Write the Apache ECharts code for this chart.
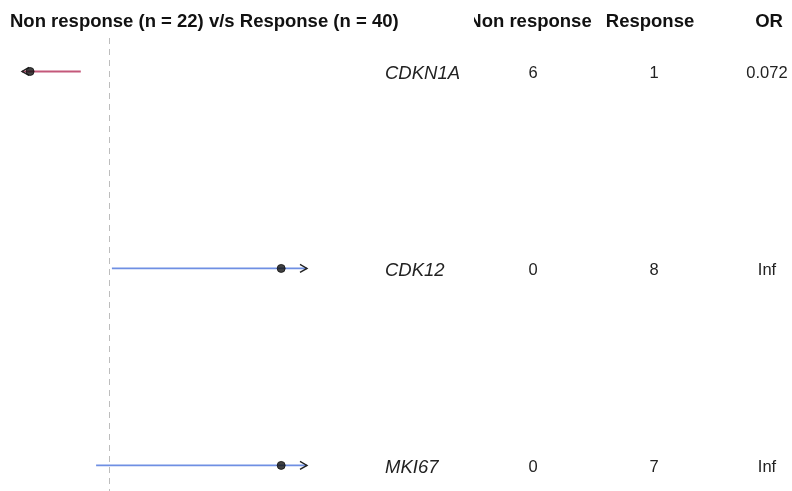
<!DOCTYPE html>
<html><head><meta charset="utf-8">
<script src="https://cdn.jsdelivr.net/npm/echarts@6/dist/echarts.min.js"></script>
<style>html,body{margin:0;padding:0;background:#fff}#chart{width:792px;height:491px}</style>
</head><body><div id="chart"></div>
<script>
// Forest plot: odds ratios (log scale) with counts per group
const genes = ['CDKN1A', 'CDK12', 'MKI67'];
const nonResponse = [6, 0, 0];
const response = [1, 8, 7];
const orLabels = ['0.072', 'Inf', 'Inf'];
const orValues = [0.072, Infinity, Infinity];
const ciLower = [0.004, 1.10, 0.65];
const ciUpper = [0.39, Infinity, Infinity];
const headers = ['Non response', 'Response', 'OR'];
const titleText = 'Non response (n = 22) v/s Response (n = 40)';

// visible range of the log axis; infinite estimates are drawn at the cap
const axisMin = 0.055, axisMax = 733, infCap = 310;

const FONT = '"Liberation Sans", Arial, sans-serif';
const colX = { gene: 385, nonResp: 533, resp: 654, or: 767 };
const headX = { nonResp: 530, resp: 650, or: 769 };
const rows = genes.map((g, i) => i + 1);

const ciData = genes.map((g, i) => [ciLower[i], ciUpper[i], rows[i], orValues[i]]);
const pointData = genes.map((g, i) => [isFinite(orValues[i]) ? orValues[i] : infCap, rows[i]]);
const tableData = genes.map((g, i) => [rows[i], g, nonResponse[i], response[i], orLabels[i]]);

function chevron(x, y, dir) {
  const w = 7 * dir, h = 4;
  return { type: 'polyline', shape: { points: [[x - w, y - h], [x, y], [x - w, y + h]] },
           style: { stroke: '#222', lineWidth: 1.4, fill: null } };
}

const headStyle = (t, x) => ({ type: 'text', x: x, y: 22,
  style: { text: t, font: 'bold 18.5px ' + FONT, fill: '#111', align: 'center', verticalAlign: 'middle' } });

const chart = echarts.init(document.getElementById('chart'), null, { renderer: 'canvas' });
chart.setOption({
  animation: false,
  backgroundColor: '#fff',
  grid: { left: 22, right: 485, top: 38, bottom: 0 },
  xAxis: { type: 'log', logBase: 10, min: axisMin, max: axisMax, show: false },
  yAxis: { type: 'value', inverse: true, min: 0.83, max: 3.13, show: false },
  graphic: [
    { type: 'text', x: 10, y: 22, style: { text: titleText, font: 'bold 18.5px ' + FONT, fill: '#111', verticalAlign: 'middle' } },
    headStyle(headers[0], headX.nonResp),
    // the first column header is cut at the left edge of its cell
    { type: 'rect', shape: { x: 440, y: 4, width: 34, height: 36 }, style: { fill: '#fff' }, z: 100 },
    headStyle(headers[1], headX.resp),
    headStyle(headers[2], headX.or)
  ],
  series: [
    {
      type: 'custom',
      data: ciData,
      renderItem: function (params, api) {
        const lo = api.value(0), hi = api.value(1), row = api.value(2), est = api.value(3);
        const loC = Math.max(lo, axisMin), hiC = Math.min(hi, axisMax);
        const p1 = api.coord([loC, row]), p2 = api.coord([hiC, row]);
        const color = est < 1 ? '#c4587a' : '#6f8fe3';
        const children = [{ type: 'line', shape: { x1: p1[0], y1: p1[1], x2: p2[0], y2: p2[1] },
                            style: { stroke: color, lineWidth: 1.8 } }];
        if (lo < axisMin) children.push(chevron(p1[0], p1[1], -1));
        if (hi > axisMax) children.push(chevron(p2[0], p2[1], 1));
        return { type: 'group', children: children };
      },
      z: 2
    },
    {
      type: 'scatter',
      data: pointData,
      symbol: 'circle',
      symbolSize: 8,
      itemStyle: { color: '#111', borderColor: '#111' },
      z: 3,
      markLine: {
        silent: true, symbol: 'none', label: { show: false },
        lineStyle: { color: '#bdbdbd', type: [6, 5], width: 1 },
        data: [{ xAxis: 1 }]
      }
    },
    {
      type: 'custom',
      data: tableData,
      clip: false,
      renderItem: function (params, api) {
        const y = api.coord([1, api.value(0)])[1] + 2;
        const d = tableData[params.dataIndex];
        const txt = (x, s, align, italic) => ({ type: 'text', x: x, y: y,
          style: { text: String(s), font: (italic ? 'italic 18.5px ' : '16.5px ') + FONT,
                   fill: '#222', align: align, verticalAlign: 'middle' } });
        return { type: 'group', children: [
          txt(colX.gene, d[1], 'left', true),
          txt(colX.nonResp, d[2], 'center'),
          txt(colX.resp, d[3], 'center'),
          txt(colX.or, d[4], 'center')
        ] };
      }
    }
  ]
});
</script></body></html>
